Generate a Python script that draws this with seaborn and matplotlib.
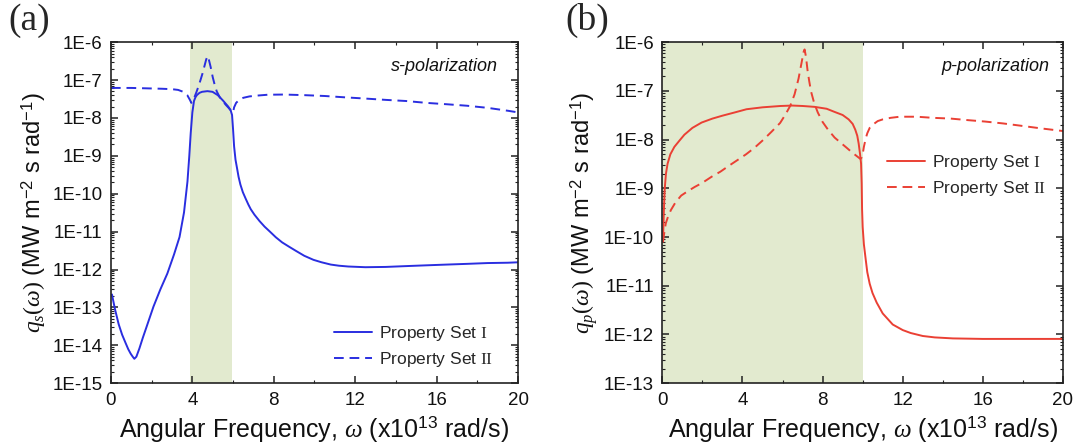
import numpy as np
import pandas as pd
import matplotlib
matplotlib.use("Agg")
import matplotlib.pyplot as plt
from matplotlib.ticker import MultipleLocator, LogLocator, FuncFormatter, NullFormatter
import seaborn as sns

# ---- spectral heat flux, s-polarization (panel a) ----
s_set1_omega = [0.05, 0.2, 0.38, 0.55, 0.72, 0.85, 0.97, 1.07, 1.15, 1.25, 1.4, 1.57, 1.74,
                2.09, 2.43, 2.77, 3.1, 3.37, 3.59, 3.76, 3.85, 3.92, 4.0, 4.08, 4.15, 4.22,
                4.35, 4.48, 4.74, 4.99, 5.25, 5.5, 5.76, 5.88, 5.95, 6.0, 6.05, 6.12, 6.19,
                6.27, 6.36, 6.48, 6.62, 6.75, 6.87, 7.05, 7.3, 7.55, 7.81, 8.1, 8.41, 8.75,
                9.09, 9.5, 9.95, 10.35, 10.8, 11.2, 11.66, 12.5, 13.5, 14.5, 15.5, 16.5, 17.5,
                18.5, 19.5, 20.0]
s_set1_q = [2.2e-13, 8.9e-14, 3.6e-14, 1.9e-14, 1.15e-14, 7.9e-15, 6.0e-15, 5.0e-15, 4.4e-15,
            5.0e-15, 8.3e-15, 1.6e-14, 2.95e-14, 1.05e-13, 3.0e-13, 7.8e-13, 2.5e-12, 7.2e-12,
            3.2e-11, 2.1e-10, 1.0e-9, 4.0e-9, 1.4e-8, 2.8e-8, 3.5e-8, 4.0e-8, 4.6e-8, 4.9e-8,
            5.1e-8, 4.9e-8, 4.0e-8, 2.9e-8, 2.0e-8, 1.6e-8, 1.2e-8, 5.0e-9, 1.8e-9, 7.9e-10,
            4.9e-10, 2.8e-10, 1.75e-10, 1.1e-10, 7.4e-11, 5.2e-11, 3.9e-11, 2.8e-11, 1.9e-11,
            1.35e-11, 1.0e-11, 7.1e-12, 5.2e-12, 4.0e-12, 3.1e-12, 2.3e-12, 1.8e-12, 1.55e-12,
            1.35e-12, 1.26e-12, 1.2e-12, 1.15e-12, 1.17e-12, 1.23e-12, 1.29e-12, 1.35e-12,
            1.41e-12, 1.48e-12, 1.51e-12, 1.55e-12]

s_set2_omega = [0.0, 1.0, 2.0, 2.5, 3.0, 3.3, 3.55, 3.75, 3.88, 3.95, 4.02, 4.1, 4.2, 4.3, 4.4,
                4.5, 4.6, 4.68, 4.75, 4.82, 4.9, 5.0, 5.1, 5.2, 5.35, 5.5, 5.65, 5.8, 5.92, 6.0,
                6.05, 6.15, 6.3, 6.5, 6.8, 7.2, 7.7, 8.5, 9.5, 10.5, 11.5, 12.5, 13.5, 14.5,
                15.5, 16.5, 17.5, 18.5, 19.5, 20.0]
s_set2_q = [6.2e-8, 6.2e-8, 6.0e-8, 5.9e-8, 5.75e-8, 5.5e-8, 4.9e-8, 4.0e-8, 3.0e-8, 2.5e-8,
            2.8e-8, 3.5e-8, 4.8e-8, 6.8e-8, 1.0e-7, 1.5e-7, 2.4e-7, 3.5e-7, 4.3e-7, 3.3e-7,
            2.2e-7, 1.2e-7, 7.4e-8, 5.0e-8, 3.5e-8, 2.75e-8, 2.2e-8, 1.8e-8, 1.5e-8, 1.4e-8,
            1.9e-8, 2.5e-8, 3.0e-8, 3.4e-8, 3.7e-8, 3.9e-8, 4.1e-8, 4.15e-8, 4.0e-8, 3.8e-8,
            3.5e-8, 3.25e-8, 3.0e-8, 2.8e-8, 2.5e-8, 2.3e-8, 2.1e-8, 1.85e-8, 1.55e-8, 1.4e-8]

# ---- spectral heat flux, p-polarization (panel b) ----
p_set1_omega = [0.03, 0.08, 0.12, 0.18, 0.26, 0.4, 0.6, 0.85, 1.1, 1.5, 1.96, 2.5, 3.0, 3.6,
                4.2, 5.0, 5.9, 6.5, 7.0, 7.6, 8.2, 8.6, 9.0, 9.3, 9.5, 9.63, 9.73, 9.8, 9.87,
                9.92, 9.95, 9.97, 10.0, 10.06, 10.15, 10.23, 10.35, 10.49, 10.7, 11.0, 11.5,
                12.0, 12.4, 13.0, 13.6, 14.5, 16.0, 18.0, 20.0]
p_set1_q = [8e-11, 4e-10, 1e-9, 2e-9, 3.2e-9, 5e-9, 7.1e-9, 9.5e-9, 1.26e-8, 1.74e-8, 2.24e-8,
            2.7e-8, 3.1e-8, 3.6e-8, 4.2e-8, 4.6e-8, 4.9e-8, 5.0e-8, 4.9e-8, 4.7e-8, 4.3e-8,
            3.7e-8, 3.2e-8, 2.6e-8, 2.1e-8, 1.6e-8, 1.2e-8, 8.3e-9, 5e-9, 3.2e-9, 1.26e-9,
            3.7e-10, 1.6e-10, 7.1e-11, 3.5e-11, 1.9e-11, 1.1e-11, 7.1e-12, 4.5e-12, 2.7e-12,
            1.6e-12, 1.23e-12, 1.07e-12, 9.3e-13, 8.7e-13, 8.3e-13, 8.1e-13, 8.1e-13, 8.1e-13]

p_set2_omega = [0.03, 0.08, 0.17, 0.3, 0.43, 0.65, 0.94, 1.3, 1.62, 2.0, 2.47, 2.9, 3.32, 3.75,
                4.18, 4.6, 5.03, 5.45, 5.88, 6.15, 6.39, 6.6, 6.8, 6.95, 7.05, 7.1, 7.17, 7.25,
                7.33, 7.42, 7.58, 7.76, 8.0, 8.27, 8.6, 8.95, 9.2, 9.46, 9.7, 9.89, 9.95, 10.0,
                10.06, 10.15, 10.23, 10.35, 10.49, 10.75, 11.0, 11.4, 11.85, 12.7, 13.5, 14.4,
                15.3, 16.1, 17.0, 17.8, 18.9, 20.0]
p_set2_q = [8e-11, 1.1e-10, 1.9e-10, 2.75e-10, 3.6e-10, 5.1e-10, 7.1e-10, 8.9e-10, 1.07e-9,
            1.3e-9, 1.74e-9, 2.2e-9, 2.9e-9, 3.8e-9, 5.0e-9, 6.8e-9, 9.8e-9, 1.45e-8, 2.2e-8,
            3.3e-8, 5.0e-8, 8.5e-8, 1.8e-7, 3.8e-7, 6.3e-7, 7.1e-7, 5.0e-7, 2.6e-7, 1.6e-7,
            9.8e-8, 5.6e-8, 3.6e-8, 2.3e-8, 1.6e-8, 1.1e-8, 8.3e-9, 6.8e-9, 5.5e-9, 4.6e-9,
            4.0e-9, 4.3e-9, 5.0e-9, 7.1e-9, 1.05e-8, 1.35e-8, 1.74e-8, 2.0e-8, 2.4e-8, 2.6e-8,
            2.8e-8, 2.95e-8, 2.95e-8, 2.8e-8, 2.7e-8, 2.5e-8, 2.35e-8, 2.15e-8, 1.95e-8, 1.7e-8,
            1.5e-8]

series_labels = ["Property Set $\\mathrm{I}$", "Property Set $\\mathrm{II}$"]
band_a = (3.87, 5.95)
band_b = (0.0, 10.0)
x_ticks = [0, 4, 8, 12, 16, 20]

sns.set_theme(style="ticks")
plt.rcParams["font.family"] = ["Liberation Sans", "DejaVu Sans"]
plt.rcParams["mathtext.fontset"] = "custom"
plt.rcParams["mathtext.rm"] = "Liberation Serif"
plt.rcParams["mathtext.it"] = "Liberation Serif:italic"
plt.rcParams["mathtext.sf"] = "Liberation Sans"

BLUE = "#2a2ee0"
RED = "#ea4034"
SHADE = "#e2eacf"

fig = plt.figure(figsize=(10.77, 4.44), dpi=100)
ax_a = fig.add_axes([0.103, 0.137, 0.378, 0.768])
ax_b = fig.add_axes([0.615, 0.137, 0.372, 0.768])


def draw_panel(ax, om1, q1, om2, q2, color, band, ylim, ylabel, pol_text, legend_kw):
    ax.axvspan(band[0], band[1], color=SHADE, lw=0, zorder=0)
    d1 = pd.DataFrame({"omega": om1, "q": q1})
    d2 = pd.DataFrame({"omega": om2, "q": q2})
    sns.lineplot(data=d1, x="omega", y="q", ax=ax, color=color, lw=1.4,
                 label=series_labels[0], sort=False)
    sns.lineplot(data=d2, x="omega", y="q", ax=ax, color=color, lw=1.4,
                 linestyle=(0, (5, 3)), label=series_labels[1], sort=False)
    ax.set_yscale("log")
    ax.set_xlim(0, 20)
    ax.set_ylim(*ylim)
    ax.xaxis.set_major_locator(MultipleLocator(4))
    ax.xaxis.set_minor_locator(MultipleLocator(2))
    ax.set_xticks(x_ticks)
    ax.yaxis.set_major_locator(LogLocator(base=10, numticks=20))
    ax.yaxis.set_minor_locator(LogLocator(base=10, subs=np.arange(2, 10), numticks=200))
    ax.yaxis.set_major_formatter(FuncFormatter(lambda v, p: "1E%d" % int(round(np.log10(v)))))
    ax.yaxis.set_minor_formatter(NullFormatter())
    ax.tick_params(which="both", direction="in", top=True, right=True, labelsize=13.5,
                   color="#222222", labelcolor="#111111")
    ax.tick_params(which="major", length=5, width=1.1, pad=6)
    ax.tick_params(which="minor", length=2.5, width=0.8)
    for s in ax.spines.values():
        s.set_linewidth(1.2)
        s.set_color("#222222")
    ax.set_xlabel("Angular Frequency, $\\omega$ (x10$^{\\mathsf{13}}$ rad/s)",
                  fontsize=18, labelpad=4, color="#111111")
    ax.set_ylabel(ylabel, fontsize=17, labelpad=3, color="#111111")
    ax.text(pol_text[0], pol_text[1], pol_text[2], transform=ax.transAxes, ha="right",
            va="center", fontsize=13, style="italic", color="#111111")
    ax.legend(frameon=False, fontsize=12.5, handlelength=2.2, handletextpad=0.4,
              labelspacing=0.4, borderaxespad=0, **legend_kw)


draw_panel(ax_a, s_set1_omega, s_set1_q, s_set2_omega, s_set2_q, BLUE, band_a, (1e-15, 1e-6),
           "$q_s(\\omega)$ (MW m$^{\\mathsf{-2}}$ s rad$^{\\mathsf{-1}}$)",
           (0.951, 0.93, "s-polarization"),
           dict(loc="lower right", bbox_to_anchor=(0.955, 0.02)))
draw_panel(ax_b, p_set1_omega, p_set1_q, p_set2_omega, p_set2_q, RED, band_b, (1e-13, 1e-6),
           "$q_p(\\omega)$ (MW m$^{\\mathsf{-2}}$ s rad$^{\\mathsf{-1}}$)",
           (0.965, 0.93, "p-polarization"),
           dict(loc="center right", bbox_to_anchor=(0.975, 0.61)))

fig.text(0.008, 0.953, "(a)", family="Liberation Serif", fontsize=27, va="center")
fig.text(0.525, 0.953, "(b)", family="Liberation Serif", fontsize=27, va="center")

fig.savefig("out.png", dpi=100)
